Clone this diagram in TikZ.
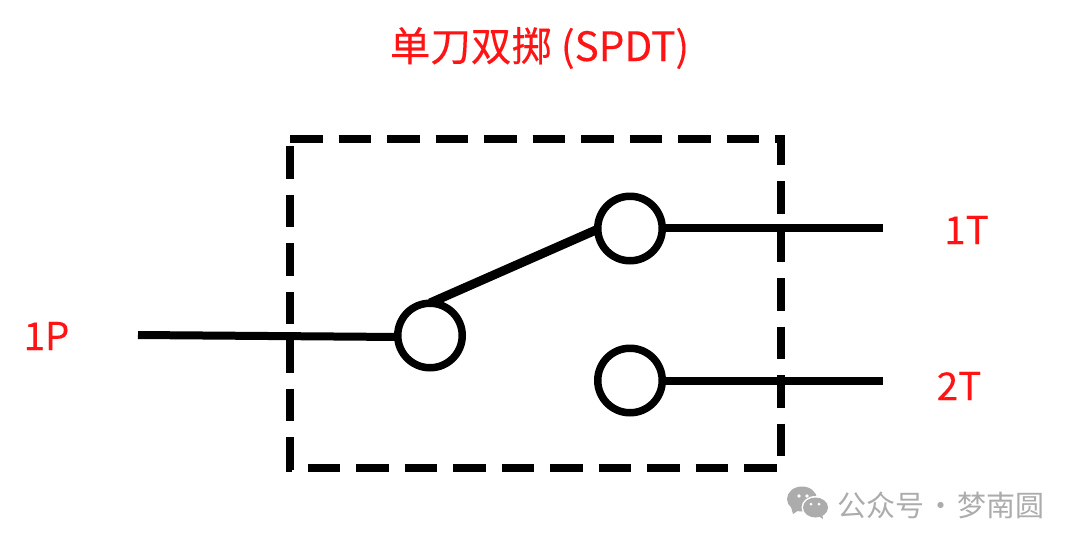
\documentclass[tikz,border=0pt]{standalone}
\usepackage{fontspec}
\setmainfont{Noto Sans CJK SC}
\newfontfamily\lblfont[FakeBold=0.25]{Noto Sans CJK SC}
\definecolor{lbl}{RGB}{254,20,20}
\definecolor{wm}{RGB}{172,172,172}
\tikzset{
 term/.style={circle,draw=black,line width=7.5pt,fill=white,minimum size=64.5pt,inner sep=0pt},
 wire/.style={line width=8pt,draw=black},
 frame/.style={line width=8pt,draw=black,dash pattern=on 32.5pt off 16pt},
 lab/.style={text=lbl,font=\lblfont\fontsize{38.5}{42}\selectfont,inner sep=0pt,anchor=center},
 ttl/.style={text=lbl,font=\lblfont\fontsize{40.5}{44}\selectfont,inner sep=0pt,anchor=center},
 wmtext/.style={text=wm,font=\fontsize{29}{32}\selectfont,inner sep=0pt}
}
\begin{document}
\begin{tikzpicture}[x=1pt,y=-1pt]
\useasboundingbox (0,0) rectangle (1080,547);
\fill[white] (0,0) rectangle (1080,547);
\coordinate (tl) at (290,139);
\coordinate (tr) at (785,139);
\coordinate (rt) at (781,135);
\coordinate (rb) at (781,460);
\coordinate (bl) at (307.7,468);
\coordinate (br) at (777,468);
\coordinate (lt) at (290,146);
\coordinate (lb) at (290,469.5);
\coordinate (pend) at (138,335);
\coordinate (t1end) at (883,228);
\coordinate (t2end) at (883,381);
% frame
\draw[frame] (tl) -- (tr);
\draw[frame,dash phase=2.5pt] (rt) -- (rb);
\draw[frame] (bl) -- (br);
\draw[frame] (lt) -- (lb);
\draw[line width=6pt,draw=black] (289,465) -- (289,472);
% wires
\draw[wire] (pend) -- (400,337);
\draw[wire,line width=9pt] (430,303) -- (605,226);
\draw[wire] (660,228) -- (t1end);
\draw[wire] (660,381) -- (t2end);
% terminals
\node[term] (p) at (430,335.5) {};
\node[term] (a) at (630,228.5) {};
\node[term] (b) at (630,380.5) {};
% labels
\node[ttl] (title) at (539.5,48) {单刀双掷 (SPDT)};
\node[lab] (l1p) at (46.5,336) {1P};
\node[lab] (l1t) at (966.5,230) {1T};
\node[lab] (l2t) at (959,386) {2T};
% watermark
\fill[wm] (802,499) ellipse (15pt and 12.5pt);
\fill[wm] (791,507) -- (793,514) -- (799,510) -- cycle;
\fill[white] (815.5,507.5) ellipse (14pt and 11.5pt);
\fill[wm] (815.5,507.5) ellipse (12.5pt and 10pt);
\fill[wm] (817,515) -- (823,519) -- (822,513) -- cycle;
\fill[white] (799,496) circle (1.8pt) (807,496) circle (1.8pt) (811,504) circle (1.5pt) (819,504) circle (1.5pt);
\node[wmtext,anchor=west] (wmk) at (837,505) {公众号\hspace{2pt}·\hspace{2pt}梦南圆};
\end{tikzpicture}
\end{document}
